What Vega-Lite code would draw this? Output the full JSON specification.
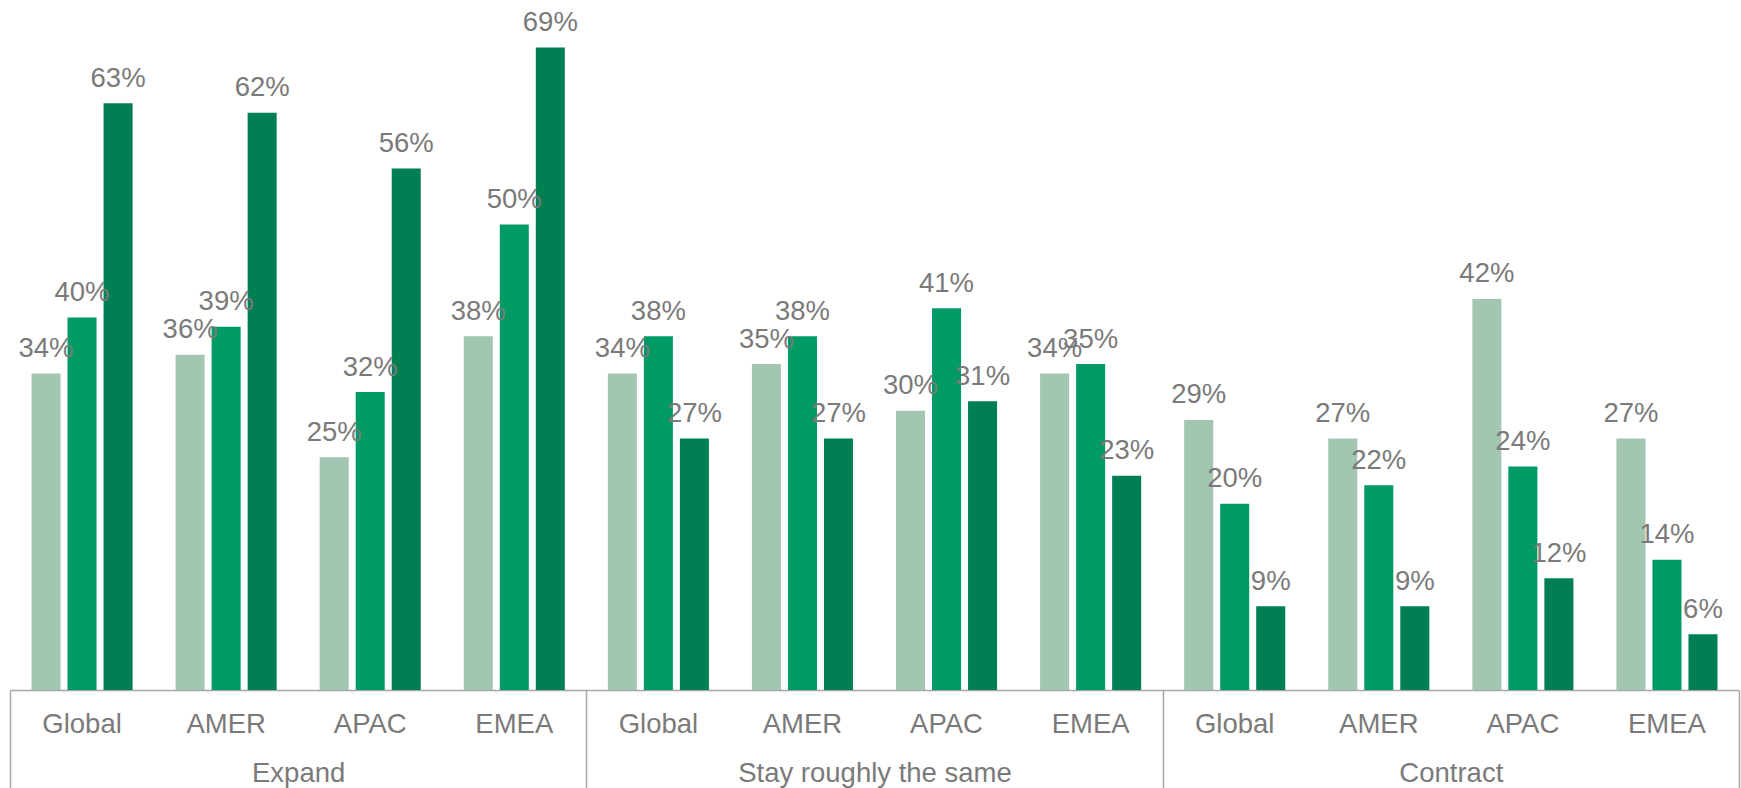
{
  "$schema": "https://vega.github.io/schema/vega-lite/v6.json",
  "width": 1729,
  "height": 690,
  "autosize": {"type": "none"},
  "padding": {"left": 10, "top": 0, "right": 2, "bottom": 98},
  "background": "white",
  "config": {"view": {"stroke": null}, "font": "Liberation Sans"},
  "data": {"values": [
    {"group": "Expand", "region": "Global", "key": "Expand|Global", "series": "S1", "value": 0.34},
    {"group": "Expand", "region": "Global", "key": "Expand|Global", "series": "S2", "value": 0.40},
    {"group": "Expand", "region": "Global", "key": "Expand|Global", "series": "S3", "value": 0.63},
    {"group": "Expand", "region": "AMER", "key": "Expand|AMER", "series": "S1", "value": 0.36},
    {"group": "Expand", "region": "AMER", "key": "Expand|AMER", "series": "S2", "value": 0.39},
    {"group": "Expand", "region": "AMER", "key": "Expand|AMER", "series": "S3", "value": 0.62},
    {"group": "Expand", "region": "APAC", "key": "Expand|APAC", "series": "S1", "value": 0.25},
    {"group": "Expand", "region": "APAC", "key": "Expand|APAC", "series": "S2", "value": 0.32},
    {"group": "Expand", "region": "APAC", "key": "Expand|APAC", "series": "S3", "value": 0.56},
    {"group": "Expand", "region": "EMEA", "key": "Expand|EMEA", "series": "S1", "value": 0.38},
    {"group": "Expand", "region": "EMEA", "key": "Expand|EMEA", "series": "S2", "value": 0.50},
    {"group": "Expand", "region": "EMEA", "key": "Expand|EMEA", "series": "S3", "value": 0.69},
    {"group": "Stay roughly the same", "region": "Global", "key": "Stay|Global", "series": "S1", "value": 0.34},
    {"group": "Stay roughly the same", "region": "Global", "key": "Stay|Global", "series": "S2", "value": 0.38},
    {"group": "Stay roughly the same", "region": "Global", "key": "Stay|Global", "series": "S3", "value": 0.27},
    {"group": "Stay roughly the same", "region": "AMER", "key": "Stay|AMER", "series": "S1", "value": 0.35},
    {"group": "Stay roughly the same", "region": "AMER", "key": "Stay|AMER", "series": "S2", "value": 0.38},
    {"group": "Stay roughly the same", "region": "AMER", "key": "Stay|AMER", "series": "S3", "value": 0.27},
    {"group": "Stay roughly the same", "region": "APAC", "key": "Stay|APAC", "series": "S1", "value": 0.30},
    {"group": "Stay roughly the same", "region": "APAC", "key": "Stay|APAC", "series": "S2", "value": 0.41},
    {"group": "Stay roughly the same", "region": "APAC", "key": "Stay|APAC", "series": "S3", "value": 0.31},
    {"group": "Stay roughly the same", "region": "EMEA", "key": "Stay|EMEA", "series": "S1", "value": 0.34},
    {"group": "Stay roughly the same", "region": "EMEA", "key": "Stay|EMEA", "series": "S2", "value": 0.35},
    {"group": "Stay roughly the same", "region": "EMEA", "key": "Stay|EMEA", "series": "S3", "value": 0.23},
    {"group": "Contract", "region": "Global", "key": "Contract|Global", "series": "S1", "value": 0.29},
    {"group": "Contract", "region": "Global", "key": "Contract|Global", "series": "S2", "value": 0.20},
    {"group": "Contract", "region": "Global", "key": "Contract|Global", "series": "S3", "value": 0.09},
    {"group": "Contract", "region": "AMER", "key": "Contract|AMER", "series": "S1", "value": 0.27},
    {"group": "Contract", "region": "AMER", "key": "Contract|AMER", "series": "S2", "value": 0.22},
    {"group": "Contract", "region": "AMER", "key": "Contract|AMER", "series": "S3", "value": 0.09},
    {"group": "Contract", "region": "APAC", "key": "Contract|APAC", "series": "S1", "value": 0.42},
    {"group": "Contract", "region": "APAC", "key": "Contract|APAC", "series": "S2", "value": 0.24},
    {"group": "Contract", "region": "APAC", "key": "Contract|APAC", "series": "S3", "value": 0.12},
    {"group": "Contract", "region": "EMEA", "key": "Contract|EMEA", "series": "S1", "value": 0.27},
    {"group": "Contract", "region": "EMEA", "key": "Contract|EMEA", "series": "S2", "value": 0.14},
    {"group": "Contract", "region": "EMEA", "key": "Contract|EMEA", "series": "S3", "value": 0.06}
  ]},
  "layer": [
    {
      "layer": [
        {
          "mark": {"type": "bar"},
          "encoding": {
            "x": {"field": "key", "type": "nominal", "sort": null,
              "scale": {"paddingInner": 0, "paddingOuter": 0},
              "axis": {"title": null, "ticks": false, "domain": true, "domainColor": "#a6a6a6", "domainWidth": 1.5,
                "labelAngle": 0, "labelPadding": 20, "labelFontSize": 27.5, "labelColor": "#7a7a7a",
                "labelFont": "Liberation Sans", "labelBaseline": "top", "labelLimit": 1000, "grid": false,
                "labelExpr": "split(datum.label, '|')[1]"}},
            "xOffset": {"field": "series", "type": "nominal", "sort": null,
              "scale": {"paddingInner": 0.194, "paddingOuter": 0.597}},
            "y": {"field": "value", "type": "quantitative", "scale": {"domain": [0, 0.741], "nice": false, "zero": true}, "axis": null},
            "color": {"field": "series", "type": "nominal", "sort": null,
              "scale": {"domain": ["S1", "S2", "S3"], "range": ["#a2c6b1", "#009a64", "#007f52"]}, "legend": null}
          }
        },
        {
          "mark": {"type": "text", "baseline": "alphabetic", "align": "center", "dy": -16.5, "fontSize": 27.5, "color": "#7a7a7a", "font": "Liberation Sans"},
          "encoding": {
            "x": {"field": "key", "type": "nominal", "sort": null},
            "xOffset": {"field": "series", "type": "nominal", "sort": null},
            "y": {"field": "value", "type": "quantitative"},
            "text": {"field": "value", "type": "quantitative", "format": ".0%"}
          }
        }
      ]
    },
    {
      "mark": {"type": "text", "opacity": 0},
      "encoding": {
        "x": {"field": "group", "type": "nominal", "sort": null,
          "scale": {"paddingInner": 0, "paddingOuter": 0},
          "axis": {"title": null, "orient": "bottom", "domain": false, "ticks": true, "tickBand": "extent",
            "tickSize": 100, "tickColor": "#a6a6a6", "tickWidth": 1.5, "labelPadding": -30.9, "labelFontSize": 27.5,
            "labelColor": "#7a7a7a", "labelFont": "Liberation Sans", "labelAngle": 0, "labelBaseline": "top", "labelLimit": 1000, "grid": false}}
      }
    }
  ],
  "resolve": {"scale": {"x": "independent"}, "axis": {"x": "independent"}}
}
